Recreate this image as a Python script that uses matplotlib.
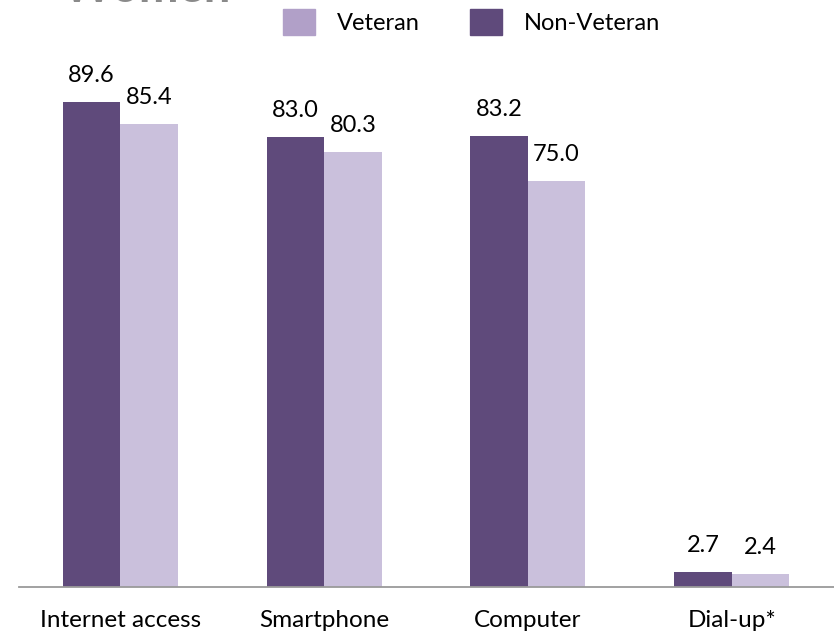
import matplotlib
matplotlib.use("Agg")
import matplotlib.pyplot as plt
from matplotlib.patches import Patch
import numpy as np

categories = ["Internet access", "Smartphone", "Computer", "Dial-up*"]
non_veteran = [89.6, 83.0, 83.2, 2.7]
veteran = [85.4, 80.3, 75.0, 2.4]

dark = "#5f4a7b"
light_bar = "#cac0dc"
light_legend = "#b1a0c8"

plt.rcParams["font.family"] = ["Lato", "DejaVu Sans"]

fig = plt.figure(figsize=(8.34, 6.36), dpi=100)
ax = fig.add_axes([18.5 / 834, 49 / 636, 815 / 834, 541.6 / 636])

x = np.arange(len(categories))
w = 0.282
b1 = ax.bar(x - w / 2, non_veteran, w, color=dark)
b2 = ax.bar(x + w / 2, veteran, w, color=light_bar)

for bars, vals in [(b1, non_veteran), (b2, veteran)]:
    for rect, v in zip(bars, vals):
        ax.annotate(f"{v:.1f}", (rect.get_x() + rect.get_width() / 2, rect.get_height()),
                    xytext=(0, 14.4), textcoords="offset points",
                    ha="center", va="baseline", fontsize=17, color="black")

ax.set_xlim(-0.5, 3.5)
ax.set_ylim(0, 100)
ax.set_xticks(x)
ax.set_xticklabels(categories, fontsize=17.5)
ax.tick_params(axis="x", length=0, pad=16.5)
ax.set_yticks([])
for s in ["top", "right", "left"]:
    ax.spines[s].set_visible(False)
ax.spines["bottom"].set_color("#9a9a9a")
ax.spines["bottom"].set_linewidth(1.3)

# title, mostly cut off at the top
fig.text(63 / 834, 1 - 2.5 / 636, "Women", fontsize=34, fontweight="bold",
         color="#8a8a8a", va="baseline", ha="left")

handles = [Patch(color=light_legend, label="Veteran"),
           Patch(color=dark, label="Non-Veteran")]
fig.legend(handles=handles, ncol=2, loc="center left",
           bbox_to_anchor=(283 / 834, 1 - 22 / 636), frameon=False,
           fontsize=17, handlelength=1.35, handleheight=1.35,
           handletextpad=0.95, columnspacing=2.1, borderpad=0, borderaxespad=0)

fig.savefig("out.png", dpi=100)
